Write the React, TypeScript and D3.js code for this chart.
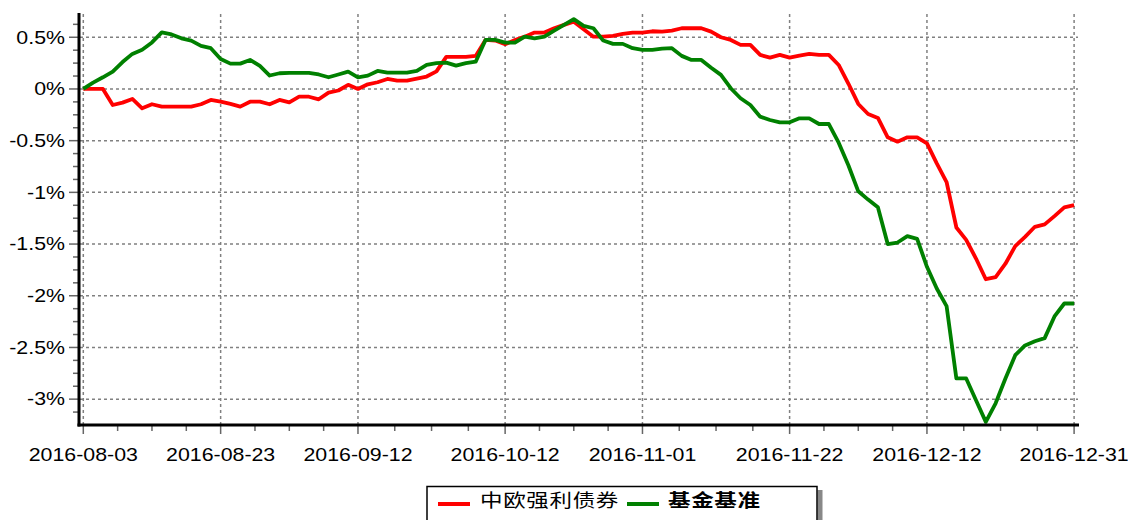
import React, { useEffect, useRef } from 'react';
import * as d3 from 'd3';

// fund vs benchmark cumulative return (%), one value per trading day
const fundName = '中欧强利债券';
const benchName = '基金基准';

const fundValues = [
  0, 0, 0, -0.155, -0.132, -0.097, -0.187, -0.148, -0.171, -0.171,
  -0.171, -0.171, -0.148, -0.106, -0.123, -0.145, -0.171, -0.123, -0.123, -0.148,
  -0.106, -0.13, -0.075, -0.075, -0.1, -0.035, -0.015, 0.04, 0, 0.045,
  0.065, 0.097, 0.08, 0.08, 0.1, 0.12, 0.17, 0.31, 0.31, 0.31,
  0.32, 0.474, 0.468, 0.433, 0.474, 0.506, 0.545, 0.545, 0.587, 0.62,
  0.65, 0.578, 0.506, 0.506, 0.513, 0.532, 0.545, 0.545, 0.558, 0.555,
  0.565, 0.587, 0.587, 0.587, 0.555, 0.5, 0.474, 0.426, 0.426, 0.329,
  0.303, 0.329, 0.303, 0.323, 0.339, 0.329, 0.329, 0.232, 0.05, -0.145,
  -0.242, -0.28, -0.468, -0.51, -0.468, -0.468, -0.526, -0.72, -0.9, -1.34,
  -1.46, -1.64, -1.84, -1.82, -1.69, -1.52, -1.43, -1.333, -1.31, -1.23,
  -1.145, -1.123,
];

const benchValues = [
  0, 0.061, 0.113, 0.168, 0.26, 0.339, 0.38, 0.45, 0.547, 0.527,
  0.49, 0.468, 0.416, 0.394, 0.29, 0.245, 0.245, 0.281, 0.223, 0.13,
  0.152, 0.155, 0.155, 0.155, 0.14, 0.113, 0.14, 0.168, 0.113, 0.129,
  0.174, 0.158, 0.158, 0.158, 0.174, 0.232, 0.249, 0.255, 0.226, 0.249,
  0.264, 0.474, 0.474, 0.448, 0.448, 0.506, 0.49, 0.506, 0.565, 0.62,
  0.675, 0.61, 0.587, 0.468, 0.436, 0.436, 0.394, 0.378, 0.378, 0.39,
  0.394, 0.32, 0.281, 0.281, 0.206, 0.136, 0.007, -0.09, -0.155, -0.268,
  -0.3, -0.323, -0.323, -0.284, -0.284, -0.339, -0.339, -0.52, -0.74, -0.99,
  -1.07, -1.145, -1.5, -1.485, -1.423, -1.45, -1.72, -1.93, -2.1, -2.8,
  -2.8, -3.01, -3.22, -3.04, -2.8, -2.575, -2.48, -2.44, -2.41, -2.2,
  -2.075, -2.075,
];

const xTickLabels = ['2016-08-03', '2016-08-23', '2016-09-12', '2016-10-12', '2016-11-01', '2016-11-22', '2016-12-12', '2016-12-31'];
const xTickIndex = [0, 14, 28, 43, 57, 72, 86, 101];
const yTickValues = [0.5, 0, -0.5, -1, -1.5, -2, -2.5, -3];

const W = 1128;
const H = 520;
const STRETCH = 1.22; // text in the picture is drawn wide

export default function App() {
  const ref = useRef<SVGSVGElement>(null);

  useEffect(() => {
    if (!ref.current) return;
    const svg = d3.select(ref.current);
    svg.selectAll('*').remove();

    const x = d3.scaleLinear().domain([0, fundValues.length - 1]).range([83.3, 1074.1]);
    const y = d3.scaleLinear().domain([-3.25, 0.725]).range([425, 14]);
    const grid = '#808080';

    // horizontal grid
    svg.append('g')
      .selectAll('line')
      .data(yTickValues)
      .join('line')
      .attr('x1', 80).attr('x2', 1078)
      .attr('y1', d => y(d)).attr('y2', d => y(d))
      .attr('stroke', grid).attr('stroke-width', 1.5).attr('stroke-dasharray', '3,3');

    // vertical grid
    svg.append('g')
      .selectAll('line')
      .data(xTickIndex)
      .join('line')
      .attr('x1', d => x(d)).attr('x2', d => x(d))
      .attr('y1', y.range()[1]).attr('y2', 425)
      .attr('stroke', grid).attr('stroke-width', 1.5).attr('stroke-dasharray', '3,3');

    // y ticks, major + minor every 0.125
    const minorY = d3.range(-25, 6).map(k => k * 0.125);
    svg.append('g')
      .selectAll('line')
      .data(minorY)
      .join('line')
      .attr('x1', d => (Math.abs(d * 2 - Math.round(d * 2)) < 1e-6 ? 69 : 73)).attr('x2', 79)
      .attr('y1', d => y(d)).attr('y2', d => y(d))
      .attr('stroke', '#666').attr('stroke-width', 1.5);

    // x ticks, major at labels + quarter steps between them
    const minorX: number[] = [];
    xTickIndex.forEach((v, i) => {
      if (i === 0) return;
      const prev = xTickIndex[i - 1];
      for (let k = 1; k < 4; k++) minorX.push(prev + ((v - prev) * k) / 4);
    });
    svg.append('g')
      .selectAll('line')
      .data(minorX)
      .join('line')
      .attr('x1', d => x(d)).attr('x2', d => x(d))
      .attr('y1', 425).attr('y2', 431)
      .attr('stroke', '#666').attr('stroke-width', 1.5);
    svg.append('g')
      .selectAll('line')
      .data(xTickIndex)
      .join('line')
      .attr('x1', d => x(d)).attr('x2', d => x(d))
      .attr('y1', 425).attr('y2', 434)
      .attr('stroke', '#666').attr('stroke-width', 1.5);

    // series
    const line = d3.line<number>()
      .x((_, i) => x(i))
      .y(d => y(d));
    svg.append('path')
      .datum(fundValues)
      .attr('d', line)
      .attr('fill', 'none').attr('stroke', '#ff0000').attr('stroke-width', 3.8)
      .attr('stroke-linejoin', 'round');
    svg.append('path')
      .datum(benchValues)
      .attr('d', line)
      .attr('fill', 'none').attr('stroke', '#008000').attr('stroke-width', 3.8)
      .attr('stroke-linejoin', 'round');

    // axes lines
    svg.append('line').attr('x1', 79).attr('x2', 79).attr('y1', 13).attr('y2', 426.5)
      .attr('stroke', '#000').attr('stroke-width', 3);
    svg.append('line').attr('x1', 77.5).attr('x2', 1079).attr('y1', 425).attr('y2', 425)
      .attr('stroke', '#000').attr('stroke-width', 3);

    const font = '"Liberation Sans", Arial, sans-serif';

    // y labels
    svg.append('g')
      .selectAll('text')
      .data(yTickValues)
      .join('text')
      .attr('transform', d => `translate(65,${y(d)}) scale(${STRETCH},1)`)
      .attr('text-anchor', 'end')
      .attr('dy', '0.36em')
      .attr('font-family', font)
      .attr('font-size', 17.5)
      .attr('fill', '#000')
      .text(d => `${d}%`);

    // x labels
    svg.append('g')
      .selectAll('text')
      .data(xTickIndex)
      .join('text')
      .attr('transform', d => `translate(${x(d)},461) scale(${STRETCH},1)`)
      .attr('text-anchor', 'middle')
      .attr('font-family', font)
      .attr('font-size', 17.5)
      .attr('fill', '#000')
      .text((_, i) => xTickLabels[i]);

    // legend
    const lg = svg.append('g');
    lg.append('rect').attr('x', 817.5).attr('y', 490).attr('width', 5).attr('height', 40).attr('fill', '#888');
    lg.append('rect').attr('x', 427).attr('y', 486.5).attr('width', 390).attr('height', 40)
      .attr('fill', '#fff').attr('stroke', '#000').attr('stroke-width', 1.5);
    const cjk = '"Noto Sans CJK SC", sans-serif';
    const items = [
      { name: fundName, color: '#ff0000', x0: 438, tx: 480, weight: 'normal' },
      { name: benchName, color: '#008000', x0: 627, tx: 668, weight: 'bold' },
    ];
    items.forEach(it => {
      lg.append('line').attr('x1', it.x0).attr('x2', it.x0 + 32).attr('y1', 504).attr('y2', 504)
        .attr('stroke', it.color).attr('stroke-width', 4);
      lg.append('text')
        .attr('transform', `translate(${it.tx},501) scale(${STRETCH},1)`)
        .attr('dy', '0.35em')
        .attr('font-family', cjk)
        .attr('font-size', 18.5)
        .attr('font-weight', it.weight)
        .attr('letter-spacing', 0.5)
        .attr('fill', '#000')
        .text(it.name);
    });
  }, []);

  return (
    <svg
      ref={ref}
      width={W}
      height={H}
      style={{ position: 'absolute', left: 0, top: 0, background: '#fff' }}
    />
  );
}
